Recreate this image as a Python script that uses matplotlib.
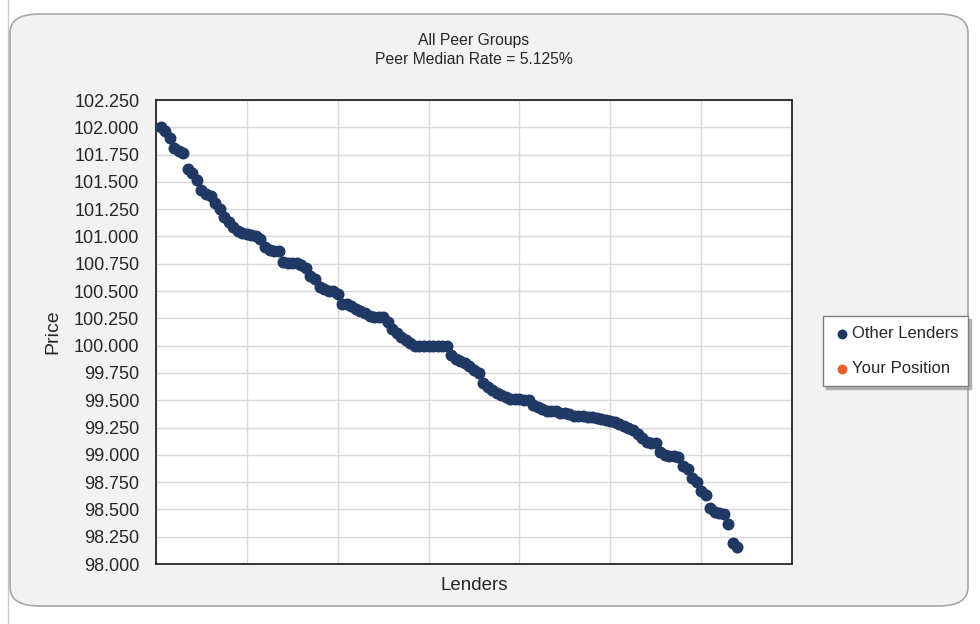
import matplotlib.pyplot as plt
import numpy as np
from matplotlib.patches import FancyBboxPatch
from matplotlib.lines import Line2D

# price per lender (sorted high -> low)
price = [
    102.00, 101.97, 101.90, 101.81, 101.78, 101.76, 101.62, 101.58, 101.52, 101.43,
    101.39, 101.37, 101.31, 101.25, 101.18, 101.13, 101.09, 101.05, 101.03, 101.02,
    101.01, 101.00, 100.98, 100.90, 100.88, 100.87, 100.87, 100.77, 100.76, 100.76,
    100.76, 100.74, 100.71, 100.64, 100.61, 100.54, 100.52, 100.50, 100.50, 100.47,
    100.38, 100.38, 100.36, 100.34, 100.32, 100.30, 100.27, 100.26, 100.26, 100.26,
    100.22, 100.15, 100.12, 100.08, 100.05, 100.02, 100.00, 100.00, 100.00, 100.00,
    100.00, 100.00, 100.00, 100.00, 99.91, 99.88, 99.86, 99.84, 99.81, 99.78,
    99.75, 99.66, 99.62, 99.59, 99.57, 99.55, 99.53, 99.51, 99.51, 99.51,
    99.50, 99.50, 99.46, 99.44, 99.42, 99.40, 99.40, 99.40, 99.38, 99.38,
    99.37, 99.36, 99.36, 99.36, 99.35, 99.35, 99.34, 99.33, 99.32, 99.31,
    99.30, 99.28, 99.26, 99.25, 99.23, 99.19, 99.15, 99.12, 99.11, 99.11,
    99.03, 99.00, 98.99, 98.99, 98.98, 98.90, 98.87, 98.79, 98.75, 98.67,
    98.63, 98.51, 98.48, 98.47, 98.46, 98.37, 98.19, 98.16,
]
lender = np.arange(1, len(price) + 1)

# your position (not visible inside the plotted range)
your_x = []
your_y = []

yticks = np.arange(98.0, 102.26, 0.25)
title = "All Peer Groups\nPeer Median Rate = 5.125%"

navy = '#1f3864'
orange = '#e8602c'

fig = plt.figure(figsize=(9.8, 6.24), dpi=100)
fig.patch.set_facecolor('white')

# rounded chart-area background
bg = FancyBboxPatch((10 / 980, 18 / 624), 958 / 980, 592 / 624,
                    boxstyle="round,pad=0,rounding_size=0.03",
                    transform=fig.transFigure, facecolor='#f2f2f2',
                    edgecolor='#a6a6a6', linewidth=1.2, zorder=-5)
fig.add_artist(bg)
fig.add_artist(Line2D([8 / 980, 8 / 980], [0, 1], color='#c8c8c8', lw=1, zorder=-4))

ax = fig.add_axes([156 / 980, 60 / 624, 636 / 980, 464 / 624], zorder=2)
ax.set_facecolor('white')

ax.scatter(lender, price, s=58, color=navy, zorder=3, label='Other Lenders')
ax.scatter(your_x, your_y, s=58, color=orange, zorder=4, label='Your Position')

ax.set_xlim(0, 140)
ax.set_xticks(np.arange(0, 141, 20))
ax.set_ylim(98.0, 102.25)
ax.set_yticks(yticks)
ax.set_yticklabels([f"{v:.3f}" for v in yticks])
ax.tick_params(axis='x', length=0, labelbottom=False)
ax.tick_params(axis='y', length=0, labelsize=13, pad=12)
for lbl in ax.get_yticklabels():
    lbl.set_family('Liberation Sans')
    lbl.set_color('#262626')

ax.grid(True, color='#d9d9d9', lw=1, zorder=0)
ax.set_axisbelow(True)
for sp in ax.spines.values():
    sp.set_color('#262626')
    sp.set_linewidth(1.3)

ax.set_ylabel('Price', fontsize=14, family='Liberation Sans', color='#262626', labelpad=9)
ax.set_xlabel('Lenders', fontsize=13.5, family='Liberation Sans', color='#262626', labelpad=9)
fig.text(474 / 980, 1 - 50 / 624, title, ha='center', va='center',
         fontsize=11.3, family='Liberation Sans', color='#262626', linespacing=1.3)

leg = fig.legend(loc='upper left', bbox_to_anchor=(815 / 980, 1 - 308 / 624),
                 frameon=True, fancybox=False, shadow={'color': '0.55', 'alpha': 0.6},
                 labelspacing=1.2, handletextpad=0.1,
                 handlelength=1.0, borderpad=0.6, markerscale=0.8,
                 prop={'family': 'Liberation Sans', 'size': 12})
leg.get_frame().set_edgecolor('#7f7f7f')
leg.get_frame().set_linewidth(1.0)
for t in leg.get_texts():
    t.set_color('#262626')

fig.savefig('out.png', dpi=100, facecolor=fig.get_facecolor())
